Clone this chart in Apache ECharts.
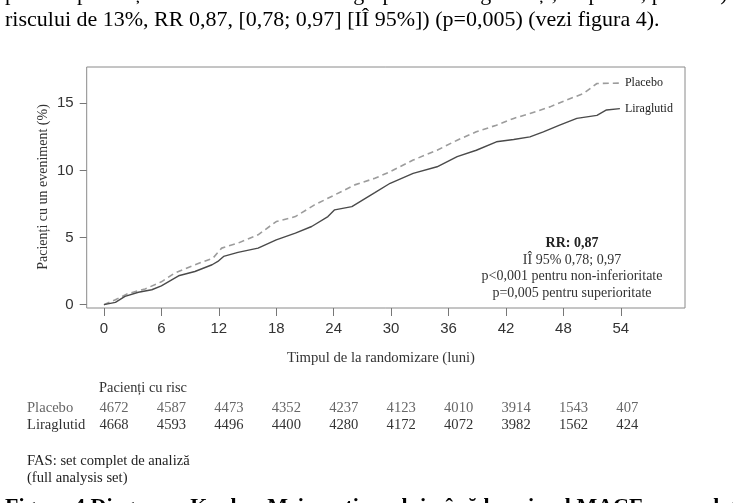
<!DOCTYPE html>
<html><head><meta charset="utf-8">
<script src="https://cdn.jsdelivr.net/npm/echarts@6/dist/echarts.min.js"></script>
<style>html,body{margin:0;padding:0;background:#fff;overflow:hidden}#c{width:733px;height:503px}</style>
</head><body><div id="c"></div>
<script>
// ---- data ----
const xTicks = [0, 6, 12, 18, 24, 30, 36, 42, 48, 54];
const yTicks = [0, 5, 10, 15];
const placeboCurve = [[0,0],[1.2,0.37],[2.5,0.82],[4.3,1.17],[6.0,1.7],[7.4,2.35],[9.5,2.97],[11.4,3.47],[12.3,4.21],[14.0,4.58],[16.1,5.2],[18,6.19],[20,6.56],[22,7.43],[24.1,8.17],[26.2,8.92],[28.3,9.41],[29.9,9.9],[32.3,10.77],[34.8,11.5],[36.9,12.25],[38.9,12.87],[41.0,13.37],[42.8,13.87],[44.5,14.24],[46.6,14.73],[48.3,15.23],[50.1,15.73],[51.5,16.47],[53.9,16.5]];
const liraCurve = [[0,0],[1.2,0.17],[2.2,0.62],[3.6,0.92],[5.0,1.11],[6.0,1.4],[7.8,2.15],[9.5,2.47],[11.3,2.97],[11.9,3.22],[12.5,3.59],[14.0,3.89],[16.1,4.21],[18,4.83],[20,5.33],[21.7,5.82],[23.4,6.56],[24.1,7.06],[25.9,7.3],[28.3,8.34],[29.9,9.04],[32.3,9.78],[34.8,10.27],[36.9,11.02],[38.9,11.5],[41.0,12.13],[42.8,12.3],[44.5,12.5],[45.9,12.87],[47.6,13.37],[49.4,13.87],[51.5,14.1],[52.5,14.5],[53.9,14.6]];
const riskPlacebo = [4672, 4587, 4473, 4352, 4237, 4123, 4010, 3914, 1543, 407];
const riskLira = [4668, 4593, 4496, 4400, 4280, 4172, 4072, 3982, 1562, 424];
const seriesNames = ['Placebo', 'Liraglutid'];
const statLines = ['IÎ 95% 0,78; 0,97', 'p<0,001 pentru non-inferioritate', 'p=0,005 pentru superioritate'];

const SERIF = "'Liberation Serif','Times New Roman',serif";
const SANS = "'Liberation Sans',Arial,sans-serif";
const chart = echarts.init(document.getElementById('c'), null, {renderer: 'canvas'});
const endLbl = {show: true, formatter: '{a}', distance: 5, color: '#222', fontFamily: SERIF, fontSize: 12};
chart.setOption({
  animation: false,
  grid: {left: 86.7, right: 48, top: 67, bottom: 195, show: true, borderColor: '#8a8a8a', borderWidth: 1, backgroundColor: 'transparent'},
  xAxis: {type: 'value', min: -1.8, max: 60.7,
    axisLine: {show: false, onZero: false}, splitLine: {show: false},
    axisTick: {show: true, length: 8, lineStyle: {color: '#777'}, customValues: xTicks},
    axisLabel: {customValues: xTicks, margin: 13, color: '#333', fontFamily: SANS, fontSize: 15}},
  yAxis: {type: 'value', min: -0.25, max: 17.7,
    axisLine: {show: false, onZero: false}, splitLine: {show: false},
    axisTick: {show: true, length: 7, lineStyle: {color: '#777'}, customValues: yTicks},
    axisLabel: {customValues: yTicks, margin: 13, color: '#333', fontFamily: SANS, fontSize: 15}},
  series: [
    {name: seriesNames[0], type: 'line', data: placeboCurve, symbol: 'none',
      lineStyle: {color: '#9c9c9c', width: 1.6, type: [6, 4]}, endLabel: endLbl},
    {name: seriesNames[1], type: 'line', data: liraCurve, symbol: 'none',
      lineStyle: {color: '#4a4a4a', width: 1.4}, endLabel: endLbl}
  ]
});

const g = [];
function txt(x, y, s, o) {
  g.push({type: 'text', x: x, y: y, style: Object.assign({text: s, fill: '#000', font: '14px ' + SERIF, textAlign: 'left', textVerticalAlign: 'middle'}, o || {})});
}
txt(5, -6, 'per 100 pacienți-ani de monitorizare în grupele cu liraglutid și, respectiv, placebo) și o reducere a', {font: '22px ' + SERIF});
txt(5, 20, 'riscului de 13%, RR 0,87, [0,78; 0,97] [IÎ 95%]) (p=0,005) (vezi figura 4).', {font: '22px ' + SERIF});
g.push({type: 'text', x: 43, y: 187, rotation: Math.PI / 2, style: {text: 'Pacienți cu un eveniment (%)', fill: '#333', font: '14px ' + SERIF, textAlign: 'center', textVerticalAlign: 'middle'}});
txt(381, 358, 'Timpul de la randomizare (luni)', {fill: '#333', textAlign: 'center', font: '14.7px ' + SERIF});
txt(572, 243, 'RR: 0,87', {fill: '#222', textAlign: 'center', font: 'bold 14px ' + SERIF});
statLines.forEach((s, i) => txt(572, 260 + i * 16.7, s, {fill: '#333', textAlign: 'center'}));
txt(99, 388, 'Pacienți cu risc', {fill: '#333', font: '14.4px ' + SERIF});
txt(27, 408, seriesNames[0], {fill: '#666', font: '14.6px ' + SERIF});
txt(27, 425, seriesNames[1], {fill: '#333', font: '14.6px ' + SERIF});
xTicks.forEach((t, i) => {
  const px = chart.convertToPixel({xAxisIndex: 0}, t);
  txt(px - 4.5, 408, String(riskPlacebo[i]), {fill: '#666', font: '14.6px ' + SERIF});
  txt(px - 4.5, 425, String(riskLira[i]), {fill: '#333', font: '14.6px ' + SERIF});
});
txt(27, 461, 'FAS: set complet de analiză', {fill: '#222', font: '14.6px ' + SERIF});
txt(27, 478, '(full analysis set)', {fill: '#222', font: '14.6px ' + SERIF});
txt(5, 507, 'Figura 4 Diagrama Kaplan-Meier a timpului până la primul MACE – populația FAS', {font: 'bold 22px ' + SERIF});
chart.setOption({graphic: g});
</script></body></html>
